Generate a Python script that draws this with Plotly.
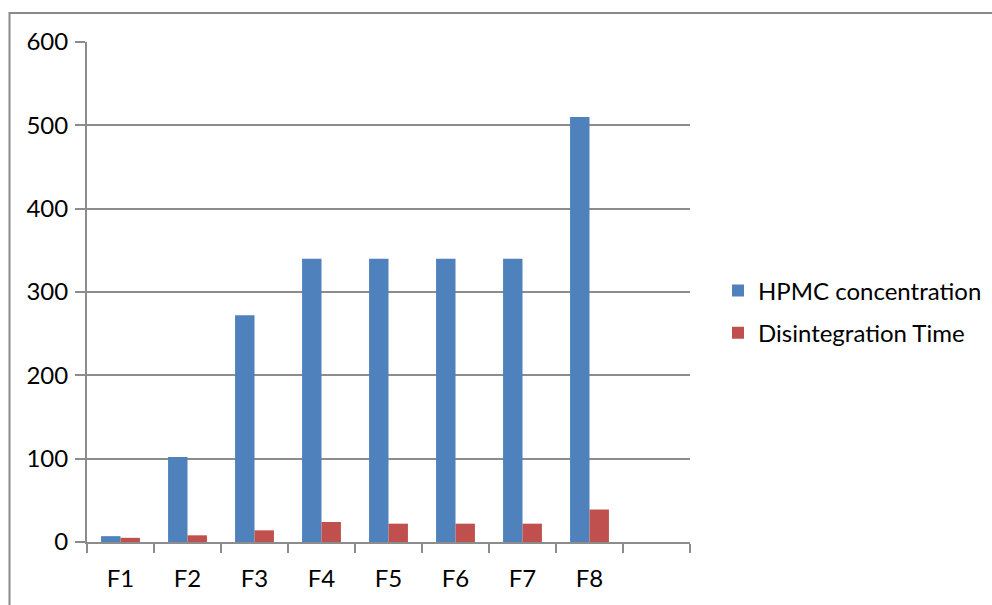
import plotly.graph_objects as go

# Formulation data
formulations = ["F1", "F2", "F3", "F4", "F5", "F6", "F7", "F8"]
slots = formulations + [" "]  # trailing empty category slot
hpmc_concentration = [7, 102, 272, 340, 340, 340, 340, 510]
disintegration_time = [5, 8, 14, 24, 22, 22, 22, 39]

y_ticks = [0, 100, 200, 300, 400, 500, 600]

FONT = "Lato, Open Sans, sans-serif"
GRID = "#8c8c8c"
FS = 24

fig = go.Figure()
fig.add_trace(go.Bar(
    x=formulations, y=hpmc_concentration, name="HPMC concentration",
    marker=dict(color="#4f81bd", line=dict(width=0)),
    legendgroup="a",
))
fig.add_trace(go.Bar(
    x=formulations, y=disintegration_time, name="Disintegration Time",
    marker=dict(color="#c0504d", line=dict(width=0)),
    legendgroup="b",
))

W, H = 992, 605
ml, mr, mt, mb = 87, 302, 42, 63
pw, ph = W - ml - mr, H - mt - mb

fig.update_layout(
    width=W, height=H,
    margin=dict(l=ml, r=mr, t=mt, b=mb, pad=0, autoexpand=False),
    paper_bgcolor="white", plot_bgcolor="white",
    barmode="group", bargap=0.42, bargroupgap=0,
    font=dict(family=FONT, size=FS, color="#000000"),
    xaxis=dict(
        type="category", categoryorder="array", categoryarray=slots,
        range=[-0.5, 8.5], tickson="boundaries",
        ticks="outside", ticklen=9, tickwidth=2, tickcolor=GRID,
        showline=True, linecolor=GRID, linewidth=2,
        showgrid=False, tickfont=dict(size=FS), ticklabelstandoff=14,
        fixedrange=True,
    ),
    yaxis=dict(
        range=[0, 600], tickvals=y_ticks,
        ticks="outside", ticklen=10, tickwidth=2, tickcolor=GRID,
        showline=True, linecolor=GRID, linewidth=2,
        showgrid=True, gridcolor=GRID, gridwidth=2,
        zeroline=False, tickfont=dict(size=FS), ticklabelstandoff=2,
        fixedrange=True,
    ),
    legend=dict(
        x=(718 - ml) / pw, xanchor="left",
        y=(542 - 312) / ph, yanchor="middle",
        font=dict(size=FS), traceorder="grouped", tracegroupgap=8,
        bgcolor="rgba(0,0,0,0)",
    ),
    showlegend=True,
)

# Outer chart-area frame
fig.add_shape(
    type="rect", xref="paper", yref="paper",
    x0=(9.5 - ml) / pw, x1=(W + 20 - ml) / pw,
    y0=-(mb + 20) / ph, y1=1 + (mt - 13) / ph,
    line=dict(color="#8a8a8a", width=2), fillcolor="rgba(0,0,0,0)",
    layer="below",
)

fig.write_html("out.html")
